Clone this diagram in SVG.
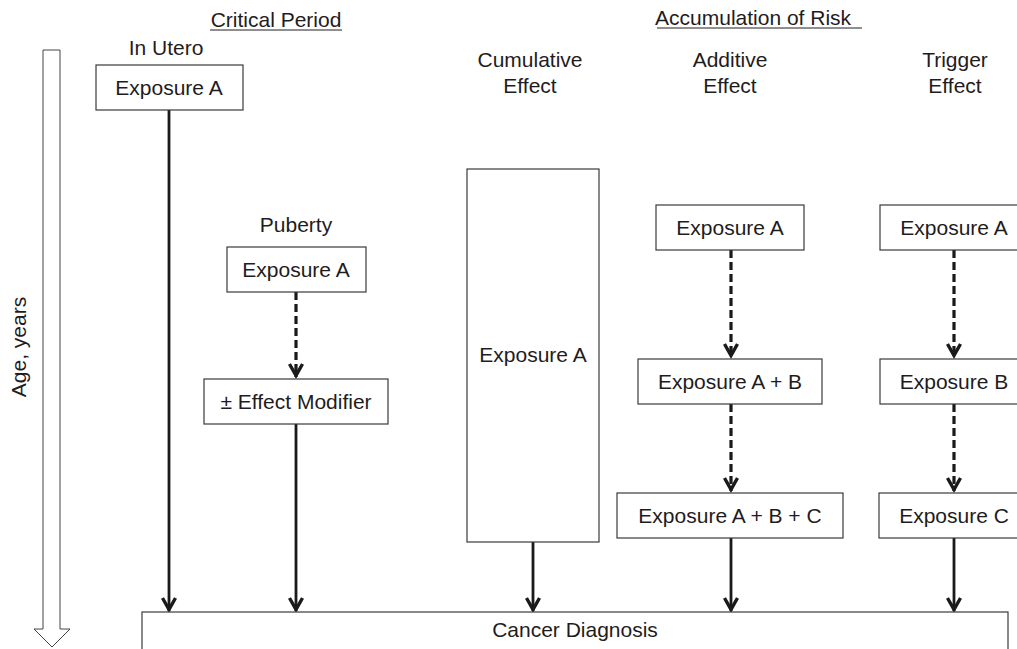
<svg xmlns="http://www.w3.org/2000/svg" width="1017" height="649" viewBox="0 0 1017 649">
<style>
text{font-family:"Liberation Sans",Arial,sans-serif;font-size:21px;fill:#1f1c1d;text-anchor:middle}
.box{fill:#fff;stroke:#3a3a3a;stroke-width:1.2}
.solid{stroke:#1a1a1a;stroke-width:2.8;fill:none}
.dash{stroke:#1a1a1a;stroke-width:3.2;fill:none;stroke-dasharray:8 4}
.ul{stroke:#231f20;stroke-width:1.2}
</style>
<defs>
<marker id="ah" markerUnits="userSpaceOnUse" markerWidth="20" markerHeight="20" viewBox="-17 -10 20 20" refX="0" refY="0" orient="auto">
<path d="M-13,-6.5 L-1.5,0 L-13,6.5" fill="none" stroke="#1a1a1a" stroke-width="3.4" stroke-linejoin="miter"/>
</marker>
</defs>
<rect width="1017" height="649" fill="#fff"/>
<g id="age-axis">
<path d="M43,50 L60,50 L60,629 L70,629 L52,647 L34,629 L43,629 Z" fill="#fff" stroke="#444" stroke-width="1"/>
<text x="26" y="347" transform="rotate(-90 26 347)">Age, years</text>
</g>
<g id="headers">
<text x="276" y="27">Critical Period</text>
<line class="ul" x1="210" y1="30" x2="342" y2="30"/>
<text x="756" y="25" xml:space="preserve">Accumulation of Risk </text>
<line class="ul" x1="657" y1="28" x2="862" y2="28"/>
<text x="166" y="55">In Utero</text>
<text x="296" y="232">Puberty</text>
<text x="530" y="67">Cumulative</text>
<text x="530" y="93">Effect</text>
<text x="730" y="67">Additive</text>
<text x="730" y="93">Effect</text>
<text x="955" y="67">Trigger</text>
<text x="955" y="93">Effect</text>
</g>
<g id="connectors">
<line class="solid" x1="169" y1="110" x2="169" y2="611" marker-end="url(#ah)"/>
<line class="dash" x1="296" y1="292" x2="296" y2="377" marker-end="url(#ah)"/>
<line class="solid" x1="296" y1="424" x2="296" y2="611" marker-end="url(#ah)"/>
<line class="solid" x1="533" y1="542" x2="533" y2="611" marker-end="url(#ah)"/>
<line class="dash" x1="731" y1="250" x2="731" y2="357" marker-end="url(#ah)"/>
<line class="dash" x1="731" y1="404" x2="731" y2="491" marker-end="url(#ah)"/>
<line class="solid" x1="731" y1="538" x2="731" y2="611" marker-end="url(#ah)"/>
<line class="dash" x1="954" y1="250" x2="954" y2="357" marker-end="url(#ah)"/>
<line class="dash" x1="954" y1="404" x2="954" y2="491" marker-end="url(#ah)"/>
<line class="solid" x1="954" y1="538" x2="954" y2="611" marker-end="url(#ah)"/>
</g>
<g id="inutero-a"><rect class="box" x="96" y="65" width="147" height="45"/><text x="169" y="95">Exposure A</text></g>
<g id="puberty-a"><rect class="box" x="227" y="247" width="139" height="45"/><text x="296" y="277">Exposure A</text></g>
<g id="modifier"><rect class="box" x="204" y="379" width="184" height="45"/><text x="296" y="409">± Effect Modifier</text></g>
<g id="cumulative-a"><rect class="box" x="467" y="169" width="132" height="373"/><text x="533" y="362">Exposure A</text></g>
<g id="additive-a"><rect class="box" x="656" y="205" width="148" height="45"/><text x="730" y="235">Exposure A</text></g>
<g id="additive-ab"><rect class="box" x="638" y="359" width="184" height="45"/><text x="730" y="389">Exposure A + B</text></g>
<g id="additive-abc"><rect class="box" x="617" y="493" width="226" height="45"/><text x="730" y="523">Exposure A + B + C</text></g>
<g id="trigger-a"><rect class="box" x="880" y="205" width="148" height="45"/><text x="954" y="235">Exposure A</text></g>
<g id="trigger-b"><rect class="box" x="880" y="359" width="148" height="45"/><text x="954" y="389">Exposure B</text></g>
<g id="trigger-c"><rect class="box" x="879" y="493" width="148" height="45"/><text x="954" y="523">Exposure C</text></g>
<g id="cancer"><rect class="box" x="142" y="612" width="866" height="60"/><text x="575" y="637">Cancer Diagnosis</text></g>
</svg>
